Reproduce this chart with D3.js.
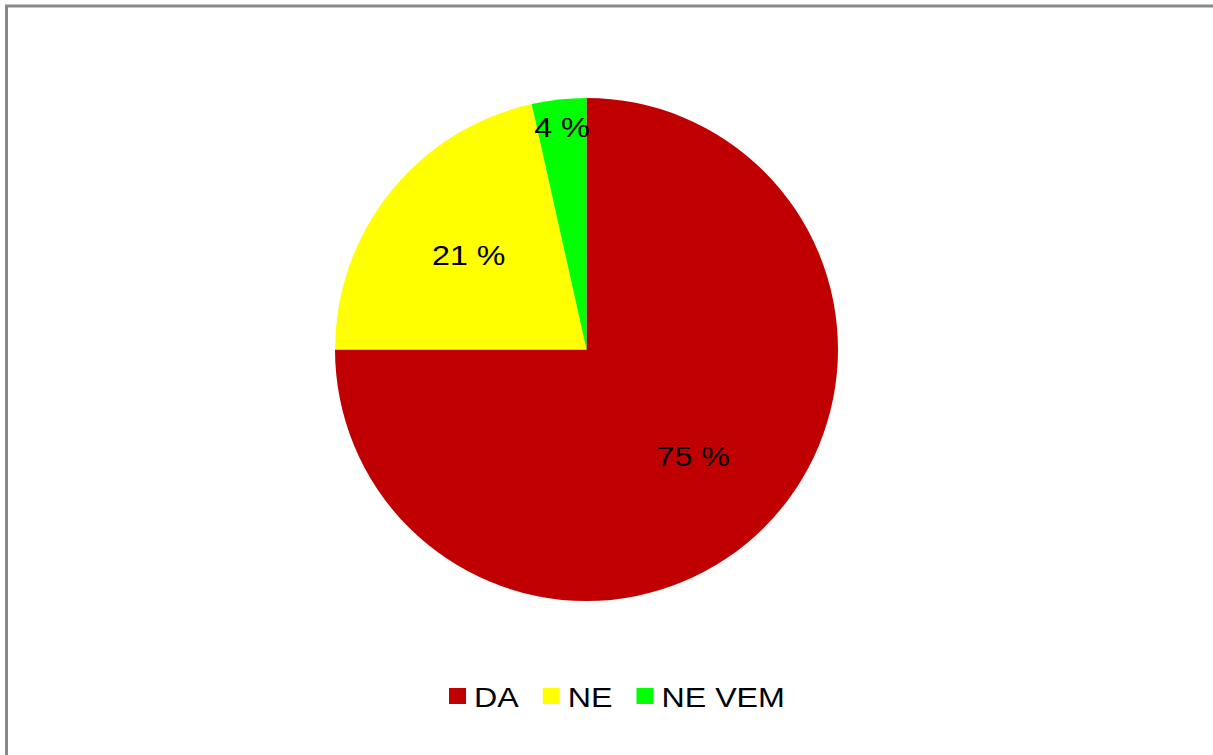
<!DOCTYPE html>
<html>
<head>
<meta charset="utf-8">
<script src="https://cdn.jsdelivr.net/npm/d3@7"></script>
<style>
  html, body { margin: 0; padding: 0; background: #fff; }
  svg { display: block; }
  text { font-family: "Liberation Sans", Arial, sans-serif; }
</style>
</head>
<body>
<svg id="chart" width="1213" height="755"></svg>
<script>
const categories = ["DA", "NE", "NE VEM"];
const values = [75, 21.5, 3.5];
const labels = ["75 %", "21 %", "4 %"];
const colors = ["#C00000", "#FFFF00", "#00FF00"];

const W = 1213, H = 755;
const svg = d3.select("#chart");

// outer frame (extends beyond the window on right/bottom)
svg.append("rect")
  .attr("x", 6.5).attr("y", 6)
  .attr("width", W + 50).attr("height", H + 50)
  .attr("fill", "#fff")
  .attr("stroke", "#898989")
  .attr("stroke-width", 3);

const cx = 586.5, cy = 349.5, r = 251.5;
const data = categories.map((c, i) => ({ cat: c, value: values[i], label: labels[i], color: colors[i] }));

const pie = d3.pie().sort(null).value(d => d.value);
const arcs = pie(data);
const arc = d3.arc().innerRadius(0).outerRadius(r);
const total = d3.sum(values);

const g = svg.append("g").attr("transform", `translate(${cx},${cy})`);
g.selectAll("path").data(arcs).join("path")
  .attr("d", arc)
  .attr("fill", d => d.data.color);

const fs = 28, sx = 1.15;
g.selectAll("text.lbl").data(arcs).join("text")
  .attr("class", "lbl")
  .attr("transform", d => {
    const share = d.data.value / total;
    const f = share < 0.05 ? 0.89 : 0.6;
    const a = (d.startAngle + d.endAngle) / 2;
    const x = Math.sin(a) * r * f, y = -Math.cos(a) * r * f;
    return `translate(${x},${y}) scale(${sx},1)`;
  })
  .attr("text-anchor", "middle")
  .attr("dy", "0.36em")
  .attr("font-size", fs)
  .attr("fill", "#000")
  .text(d => d.data.label);

// legend
const leg = svg.append("g");
const sq = 17, gapTxt = 8, gapItem = 24;
const items = leg.selectAll("g").data(data).join("g");
items.append("rect").attr("width", sq).attr("height", 16).attr("y", 688).attr("fill", d => d.color);
const texts = items.append("text")
  .attr("y", 707)
  .attr("font-size", fs)
  .attr("fill", "#000")
  .text(d => d.cat);
let widths = [];
texts.each(function() { widths.push(this.getComputedTextLength() * sx); });
const totalW = d3.sum(widths) + data.length * (sq + gapTxt) + (data.length - 1) * gapItem;
let x0 = 617 - totalW / 2;
items.each(function(d, i) {
  const it = d3.select(this);
  it.select("rect").attr("x", x0);
  const tx = x0 + sq + gapTxt;
  it.select("text").attr("transform", `translate(${tx},0) scale(${sx},1)`);
  x0 = tx + widths[i] + gapItem;
});
</script>
</body>
</html>
